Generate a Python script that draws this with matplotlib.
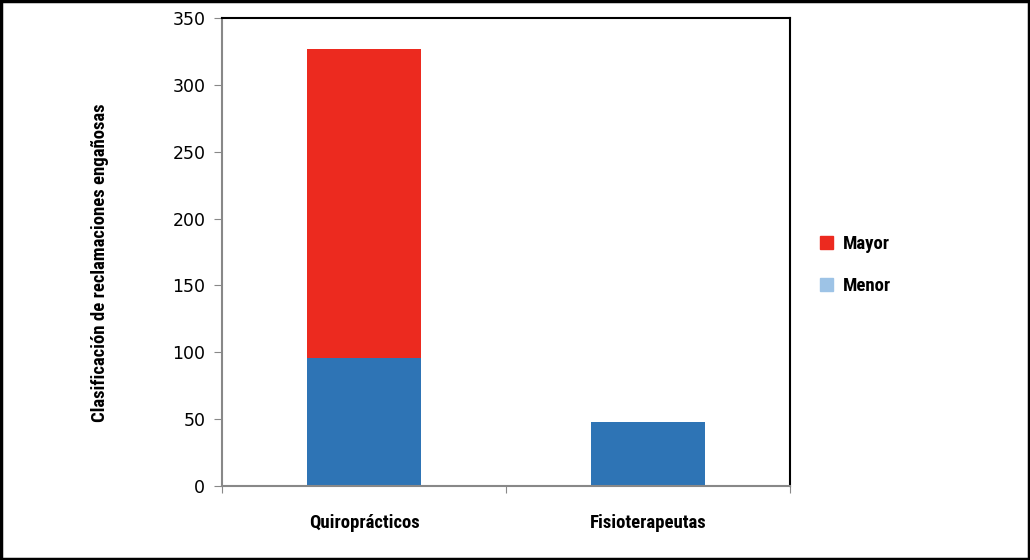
import matplotlib
matplotlib.use("Agg")
import matplotlib.pyplot as plt
import matplotlib.patches as patches
from matplotlib import font_manager

categories = ["Quiroprácticos", "Fisioterapeutas"]
menor = [96, 48]
mayor = [231, 0]
legend_labels = ["Mayor", "Menor"]
y_ticks = [0, 50, 100, 150, 200, 250, 300, 350]

# condensed bold font for labels, first one installed
names = {f.name for f in font_manager.fontManager.ttflist}
narrow = "DejaVu Sans"
for cand in ["Roboto Condensed", "Liberation Sans Narrow", "DejaVu Sans Condensed",
             "Open Sans Condensed", "Roboto"]:
    if cand in names:
        narrow = cand
        break
label_font = dict(family=narrow, weight="heavy")

fig = plt.figure(figsize=(10.3, 5.6), dpi=100)
ax = fig.add_axes([0.2155, 0.132, 0.5515, 0.836])

x = range(len(categories))
ax.bar(x, menor, width=0.4, color="#2e74b5", zorder=2)
ax.bar(x, mayor, width=0.4, bottom=menor, color="#ec2a1f", zorder=2)

ax.set_xlim(-0.5, 1.5)
ax.set_ylim(0, 350)
ax.set_yticks(y_ticks)
ax.set_yticklabels([str(v) for v in y_ticks], fontsize=12.5)

ax.set_xticks([-0.5, 0.5, 1.5])
ax.set_xticklabels([])
ax.set_xticks(list(x), minor=True)
ax.set_xticklabels(categories, minor=True, fontsize=13.5, **label_font)
ax.tick_params(axis="x", which="minor", length=0, pad=20)
ax.tick_params(axis="x", which="major", length=5, color="#888888", direction="out")
ax.tick_params(axis="y", length=6, color="#888888", direction="out", pad=6)

for s in ["left", "bottom"]:
    ax.spines[s].set_color("#888888")
    ax.spines[s].set_linewidth(1.5)
for s in ["top", "right"]:
    ax.spines[s].set_color("black")
    ax.spines[s].set_linewidth(1.5)

fig.text(0.097, 0.53, "Clasificación de reclamaciones engañosas", rotation=90,
         ha="center", va="center", fontsize=13.5, **label_font)

handles = [patches.Patch(color="#ec2a1f"), patches.Patch(color="#9dc3e6")]
leg = fig.legend(handles, legend_labels, loc="center left", bbox_to_anchor=(0.78, 0.527),
                 frameon=False, handlelength=0.7, handleheight=0.7, labelspacing=1.3,
                 handletextpad=0.5, prop=dict(size=13.5, **label_font))

# outer frame of the picture
fig.patches.append(patches.Rectangle((0.001, 0.002), 0.998, 0.996, transform=fig.transFigure,
                                     fill=False, edgecolor="black", linewidth=2.5))

fig.savefig("out.png", dpi=100)
